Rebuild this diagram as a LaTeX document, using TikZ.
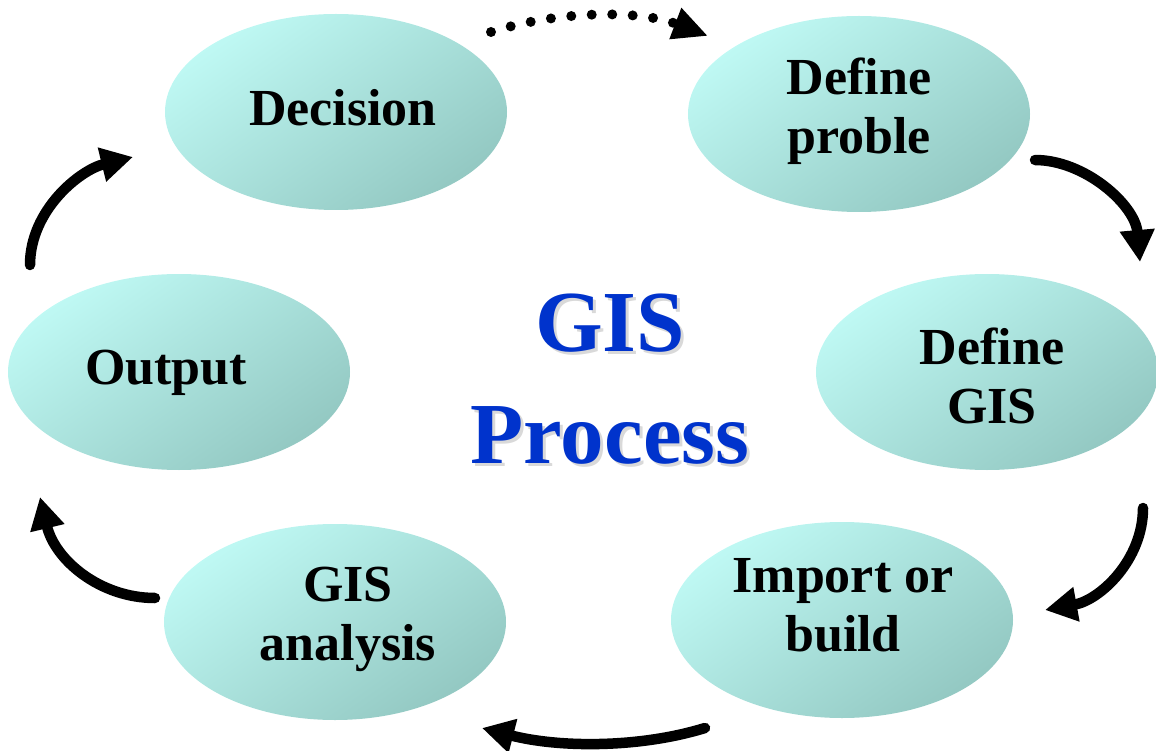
\documentclass[tikz,border=0pt]{standalone}
\usepackage{fontspec}
\setmainfont{Liberation Serif}
\usetikzlibrary{shapes.geometric,arrows.meta}

\begin{document}
\begin{tikzpicture}[x=1pt,y=-1pt,
        paso/.style={ellipse,inner sep=0pt,minimum width=342pt,minimum height=196pt,
            top color=cclaro,bottom color=coscuro,shading angle=35},
        etiqueta/.style={font=\fontsize{52}{59}\selectfont\bfseries,align=center},
        flecha/.style={line width=10.5pt,line cap=round,-{Triangle[length=32pt,width=33pt]}},
        titulo/.style={font=\fontsize{87}{112}\selectfont\bfseries,align=center}]
        %colores
        \definecolor{cclaro}{HTML}{BFF9F4}
        \definecolor{coscuro}{HTML}{93C8C2}
        \definecolor{azul}{HTML}{0033CC}

        \useasboundingbox (0,0) rectangle (1156,751);

        % Etapas
        \node[paso] (decision) at (336,112) {};
        \node[paso] (problema) at (859,114) {};
        \node[paso] (salida) at (179,372) {};
        \node[paso] (defgis) at (987,372) {};
        \node[paso] (analisis) at (335,622) {};
        \node[paso] (importar) at (842,620) {};

        % Textos de las etapas
        \node[etiqueta] (tdecision) at ([shift={(7,-4)}]decision) {Decision};
        \node[etiqueta] (tproblema) at ([shift={(0,-3)}]problema) {Define\\proble};
        \node[etiqueta] (tsalida) at ([shift={(-13,1)}]salida) {Output};
        \node[etiqueta] (tdefgis) at ([shift={(5,4)}]defgis) {Define\\GIS};
        \node[etiqueta] (tanalisis) at ([shift={(13,-3)}]analisis) {GIS\\analysis};
        \node[etiqueta] (timportar) at ([shift={(1,-15)}]importar) {Import or\\build};

        % Titulo con sombra
        \node[titulo,text=black!25,opacity=.6] (sombra) at (613,382) {GIS\\Process};
        \node[titulo,text=azul] (titulo) at (610,379) {GIS\\Process};

        % Extremos de las flechas
        \coordinate (d1) at (491,32);   \coordinate (d2) at (708,36);
        \coordinate (f1) at (1035,160); \coordinate (f2) at (1140,262);
        \coordinate (g1) at (1143,508); \coordinate (g2) at (1045,610);
        \coordinate (h1) at (705,728);  \coordinate (h2) at (482,728);
        \coordinate (k1) at (155,598);  \coordinate (k2) at (40,497);
        \coordinate (m1) at (30,265);   \coordinate (m2) at (133,157);

        % Flechas
        \draw[line width=10pt,line cap=round,dash pattern=on 0pt off 20.5pt,
            -{Triangle[length=35pt,width=31pt]}] (d1) .. controls (560,10) and (640,10) .. (d2);
        \draw[flecha] (f1) .. controls (1085,160) and (1135,205) .. (f2);
        \draw[flecha] (g1) .. controls (1143,560) and (1100,600) .. (g2);
        \draw[flecha] (h1) .. controls (640,748) and (560,748) .. (h2);
        \draw[flecha] (k1) .. controls (100,598) and (55,560) .. (k2);
        \draw[flecha] (m1) .. controls (30,210) and (80,170) .. (m2);
    \end{tikzpicture}
\end{document}
